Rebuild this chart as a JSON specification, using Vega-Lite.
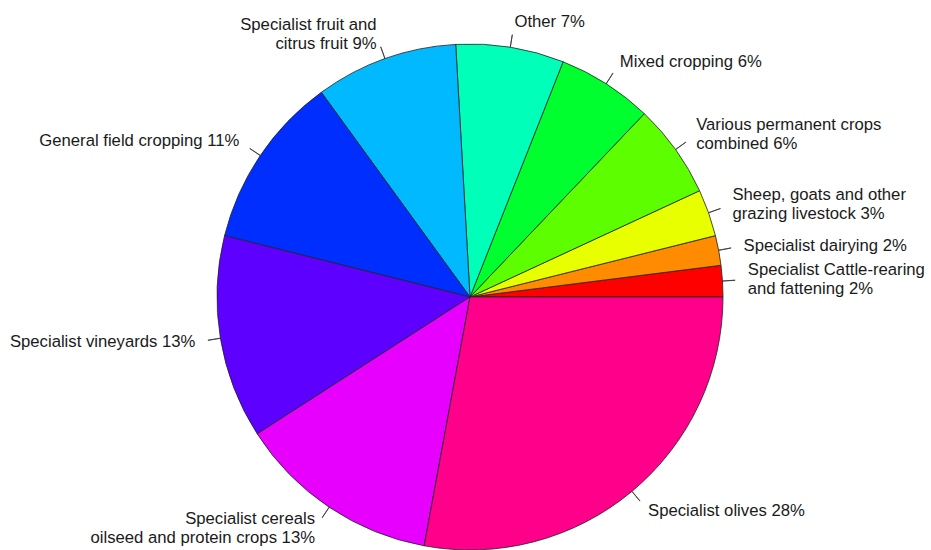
{
  "$schema": "https://vega.github.io/schema/vega-lite/v6.json",
  "width": 506,
  "height": 506,
  "autosize": {"type": "none"},
  "padding": {"left": 217, "top": 44, "right": 208, "bottom": 0},
  "background": "white",
  "config": {"view": {"stroke": null}, "font": "Liberation Sans"},
  "data": {
    "values": [
      {"ord": 1, "label": "Specialist Cattle-rearing\nand fattening 2%", "value": 2.0},
      {"ord": 2, "label": "Specialist dairying 2%", "value": 1.9},
      {"ord": 3, "label": "Sheep, goats and other\ngrazing livestock 3%", "value": 3.0},
      {"ord": 4, "label": "Various permanent crops\ncombined 6%", "value": 6.0},
      {"ord": 5, "label": "Mixed cropping 6%", "value": 6.1},
      {"ord": 6, "label": "Other 7%", "value": 6.9},
      {"ord": 7, "label": "Specialist fruit and\ncitrus fruit 9%", "value": 9.1},
      {"ord": 8, "label": "General field cropping 11%", "value": 11.1},
      {"ord": 9, "label": "Specialist vineyards 13%", "value": 13.0},
      {"ord": 10, "label": "Specialist cereals\noilseed and protein crops 13%", "value": 13.0},
      {"ord": 11, "label": "Specialist olives 28%", "value": 27.9}
    ]
  },
  "transform": [
    {"window": [{"op": "sum", "field": "value", "as": "cum"}], "sort": [{"field": "ord", "order": "ascending"}], "frame": [null, 0]},
    {"calculate": "datum.cum - datum.value", "as": "start"},
    {"calculate": "datum.cum - datum.value / 2", "as": "mid"},
    {"calculate": "datum.mid + 0.01", "as": "mid2"}
  ],
  "layer": [
    {
      "mark": {"type": "arc", "stroke": "#222222", "strokeWidth": 0.8, "radius": 253},
      "encoding": {
        "theta": {"field": "start", "type": "quantitative", "scale": {"domain": [0, 100], "range": [1.5707963, -4.712389]}},
        "theta2": {"field": "cum"},
        "color": {
          "field": "ord", "type": "ordinal", "legend": null,
          "scale": {"domain": [1,2,3,4,5,6,7,8,9,10,11], "range": ["#FF0000","#FF8B00","#E8FF00","#5DFF00","#00FF2E","#00FFB9","#00B9FF","#002EFF","#5D00FF","#E800FF","#FF008B"]}
        }
      }
    },
    {
      "mark": {"type": "arc", "stroke": "#333333", "strokeWidth": 0.8, "fill": null, "radius": 253, "radius2": 265.6},
      "encoding": {
        "theta": {"field": "mid", "type": "quantitative", "scale": {"domain": [0, 100], "range": [1.5707963, -4.712389]}},
        "theta2": {"field": "mid2"}
      }
    },
    {
      "transform": [{"filter": "(datum.mid < 25 || datum.mid > 75) && indexof(datum.label, '\\n') < 0"}],
      "mark": {"type": "text", "align": "left", "baseline": "middle", "fontSize": 16.7, "lineHeight": 19, "lineBreak": "\n", "color": "#1a1a1a", "radius": 278.3},
      "encoding": {
        "theta": {"field": "mid", "type": "quantitative", "stack": null, "scale": {"domain": [0, 100], "range": [1.5707963, -4.712389]}},
        "text": {"field": "label"}
      }
    },
    {
      "transform": [{"filter": "(datum.mid < 25 || datum.mid > 75) && indexof(datum.label, '\\n') >= 0"}],
      "mark": {"type": "text", "align": "left", "baseline": "middle", "dy": -9.5, "fontSize": 16.7, "lineHeight": 19, "lineBreak": "\n", "color": "#1a1a1a", "radius": 278.3},
      "encoding": {
        "theta": {"field": "mid", "type": "quantitative", "stack": null, "scale": {"domain": [0, 100], "range": [1.5707963, -4.712389]}},
        "text": {"field": "label"}
      }
    },
    {
      "transform": [{"filter": "datum.mid >= 25 && datum.mid <= 75 && indexof(datum.label, '\\n') < 0"}],
      "mark": {"type": "text", "align": "right", "baseline": "middle", "fontSize": 16.7, "lineHeight": 19, "lineBreak": "\n", "color": "#1a1a1a", "radius": 278.3},
      "encoding": {
        "theta": {"field": "mid", "type": "quantitative", "stack": null, "scale": {"domain": [0, 100], "range": [1.5707963, -4.712389]}},
        "text": {"field": "label"}
      }
    },
    {
      "transform": [{"filter": "datum.mid >= 25 && datum.mid <= 75 && indexof(datum.label, '\\n') >= 0"}],
      "mark": {"type": "text", "align": "right", "baseline": "middle", "dy": -9.5, "fontSize": 16.7, "lineHeight": 19, "lineBreak": "\n", "color": "#1a1a1a", "radius": 278.3},
      "encoding": {
        "theta": {"field": "mid", "type": "quantitative", "stack": null, "scale": {"domain": [0, 100], "range": [1.5707963, -4.712389]}},
        "text": {"field": "label"}
      }
    }
  ]
}
